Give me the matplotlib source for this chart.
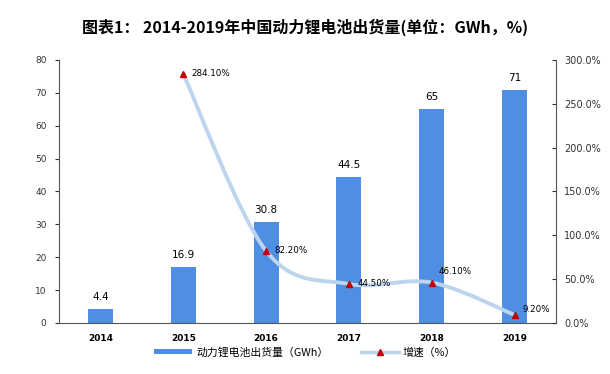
import matplotlib
matplotlib.use("Agg")
import matplotlib.pyplot as plt
from matplotlib.path import Path
from matplotlib.patches import PathPatch
from matplotlib.lines import Line2D
from matplotlib.patches import Patch

plt.rcParams['font.family'] = ['Noto Sans CJK SC', 'DejaVu Sans']

years = ['2014', '2015', '2016', '2017', '2018', '2019']
shipments = [4.4, 16.9, 30.8, 44.5, 65, 71]
growth = [None, 284.1, 82.2, 44.5, 46.1, 9.2]
growth_labels = ['', '284.10%', '82.20%', '44.50%', '46.10%', '9.20%']

bar_color = '#4f8fe3'
line_color = '#bcd5ec'
marker_color = '#c00000'

fig = plt.figure(figsize=(6.1, 3.74), dpi=100)
ax = fig.add_axes([0.0967, 0.1364, 0.8148, 0.7032])
x = list(range(len(years)))

ax.bar(x, shipments, width=0.30, color=bar_color, zorder=2)
for xi, v in zip(x, shipments):
    ax.annotate(f"{v:g}", (xi, v), textcoords="offset points", xytext=(0, 5),
                ha='center', va='bottom', fontsize=7.5, family='DejaVu Sans')

ax.set_xlim(-0.5, len(years) - 0.5)
ax.set_ylim(0, 80)
ax.set_yticks(range(0, 81, 10))
ax.set_xticks(x)
ax.set_xticklabels(years, fontsize=6.5, fontweight='bold', family='DejaVu Sans')
ax.tick_params(axis='x', length=0, pad=8)
ax.tick_params(axis='y', labelsize=6.5, length=3, colors='#333333', pad=6)
for lab in ax.get_yticklabels():
    lab.set_family('DejaVu Sans')
ax.spines['top'].set_visible(False)
ax.spines['right'].set_visible(False)
for s in ('left', 'bottom'):
    ax.spines[s].set_color('#555555')
    ax.spines[s].set_linewidth(0.8)

ax2 = ax.twinx()
ax2.set_ylim(0, 300)
ax2.set_yticks(range(0, 301, 50))
ax2.set_yticklabels([f"{t:.1f}%" for t in range(0, 301, 50)], family='DejaVu Sans')
ax2.tick_params(axis='y', labelsize=7, length=3, direction='in', colors='#333333', pad=6)
for s in ('top', 'left', 'bottom'):
    ax2.spines[s].set_visible(False)
ax2.spines['right'].set_color('#555555')
ax2.spines['right'].set_linewidth(0.8)

# smoothed growth line (Bezier through the data points)
gx = [xi for xi, g in zip(x, growth) if g is not None]
gy = [g for g in growth if g is not None]
verts = [(gx[0], gy[0])]
codes = [Path.MOVETO]
n = len(gx)
for i in range(n - 1):
    p0 = (gx[max(i - 1, 0)], gy[max(i - 1, 0)])
    p1 = (gx[i], gy[i])
    p2 = (gx[i + 1], gy[i + 1])
    p3 = (gx[min(i + 2, n - 1)], gy[min(i + 2, n - 1)])
    c1 = (p1[0] + (p2[0] - p0[0]) / 6, p1[1] + (p2[1] - p0[1]) / 6)
    c2 = (p2[0] - (p3[0] - p1[0]) / 6, p2[1] - (p3[1] - p1[1]) / 6)
    verts += [c1, c2, p2]
    codes += [Path.CURVE4] * 3
ax2.add_patch(PathPatch(Path(verts, codes), facecolor='none', edgecolor=line_color,
                        linewidth=2.8, capstyle='round', zorder=3))
ax2.plot(gx, gy, linestyle='none', marker='^', markersize=5, color=marker_color, zorder=4)

offsets = {1: (6, 0), 2: (6, 0), 3: (6, 0), 4: (5, 8), 5: (6, 4)}
for xi, g, lab in zip(x, growth, growth_labels):
    if g is None:
        continue
    ax2.annotate(lab, (xi, g), textcoords="offset points", xytext=offsets[xi],
                 ha='left', va='center', fontsize=6.3, family='DejaVu Sans')

fig.text(0.5, 0.928, "图表1： 2014-2019年中国动力锂电池出货量(单位：GWh，%)",
         ha='center', va='center', fontsize=11.5, fontweight='bold')

handles = [Patch(facecolor=bar_color, edgecolor='none'),
           Line2D([0], [0], color=line_color, linewidth=2.5, marker='^',
                  markersize=4, markerfacecolor=marker_color, markeredgecolor=marker_color)]
fig.legend(handles, ['动力锂电池出货量（GWh）', '增速（%）'], loc='center',
           bbox_to_anchor=(0.5, 0.058), ncol=2, frameon=False, fontsize=7.8,
           handlelength=3.5, handleheight=0.35, columnspacing=3, handletextpad=0.4)

fig.savefig('out.png', dpi=100)
